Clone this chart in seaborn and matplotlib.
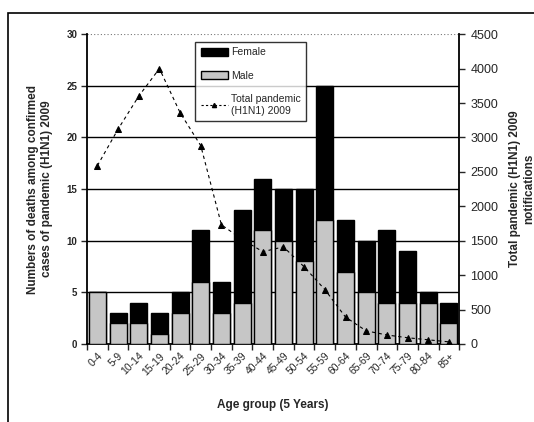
import matplotlib
matplotlib.use("Agg")
import matplotlib.pyplot as plt
import matplotlib.transforms as mtransforms
import seaborn as sns
import pandas as pd
import numpy as np
from matplotlib.patches import Patch, Rectangle
from matplotlib.lines import Line2D

age_groups = ["0-4", "5-9", "10-14", "15-19", "20-24", "25-29", "30-34", "35-39",
              "40-44", "45-49", "50-54", "55-59", "60-64", "65-69", "70-74",
              "75-79", "80-84", "85+"]
deaths_total = [5, 3, 4, 3, 5, 11, 6, 13, 16, 15, 15, 25, 12, 10, 11, 9, 5, 4]
deaths_male = [5, 2, 2, 1, 3, 6, 3, 4, 11, 10, 8, 12, 7, 5, 4, 4, 4, 2]
notifications = [2590, 3120, 3600, 4000, 3360, 2880, 1730, 1520, 1340, 1410,
                 1120, 790, 390, 190, 130, 90, 60, 30]

df = pd.DataFrame({"age": age_groups, "total": deaths_total,
                   "male": deaths_male, "notif": notifications})

sns.set_style("white")
plt.rcParams["font.family"] = ["Liberation Sans", "DejaVu Sans"]

fig = plt.figure(figsize=(5.34, 4.22), dpi=100)
ax = fig.add_axes([0.163, 0.185, 0.697, 0.734])

# horizontal grid lines behind the bars
for v in [5, 10, 15, 20, 25]:
    ax.axhline(v, color="black", lw=1.0, zorder=0)
ax.axhline(30, color="#777777", lw=0.8, ls=(0, (1, 2)), zorder=0)

sns.barplot(data=df, x="age", y="total", color="black", edgecolor="black",
            linewidth=1.0, width=0.82, saturation=1, ax=ax, zorder=2)
sns.barplot(data=df, x="age", y="male", color="#c6c6c6", edgecolor="black",
            linewidth=1.0, width=0.82, saturation=1, ax=ax, zorder=3)

ax.set_ylim(0, 30)
ax.set_xlim(-0.5, len(age_groups) - 0.5)
ax.set_yticks(range(0, 31, 5))
ax.tick_params(axis="y", labelsize=7, length=4, width=1, direction="out",
               left=True, pad=3)
for lab in ax.get_yticklabels():
    lab.set_fontweight("bold")

# x ticks at category boundaries, labels at category centres
ax.set_xticks(np.arange(-0.5, len(age_groups)), minor=False)
ax.set_xticklabels([])
ax.set_xticks(np.arange(len(age_groups)), minor=True)
ax.set_xticklabels(age_groups, minor=True, rotation=45, ha="right",
                   rotation_mode="anchor", fontsize=7.5)
shift = mtransforms.ScaledTranslation(-5 / 100, 0, fig.dpi_scale_trans)
for lab in ax.get_xticklabels(minor=True):
    lab.set_transform(lab.get_transform() + shift)
ax.tick_params(axis="x", which="major", length=4, width=1, direction="out",
               bottom=True)
ax.tick_params(axis="x", which="minor", length=0, pad=5)

for s in ["left", "bottom"]:
    ax.spines[s].set_linewidth(1.3)
    ax.spines[s].set_color("black")
ax.spines["top"].set_visible(False)
ax.spines["right"].set_visible(False)

ax.set_xlabel("Age group (5 Years)", fontsize=8.5, fontweight="bold", labelpad=16)
ax.set_ylabel("Numbers of deaths among confirmed\ncases of pandemic (H1N1) 2009",
              fontsize=8.5, fontweight="bold", labelpad=10)

ax2 = ax.twinx()
sns.lineplot(data=df, x="age", y="notif", ax=ax2, color="black", lw=0.8,
             linestyle=(0, (3, 3)), marker="^", markersize=4,
             markeredgecolor="black", sort=False, zorder=4)
ax2.set_ylim(0, 4500)
ax2.set_yticks(range(0, 4501, 500))
ax2.tick_params(axis="y", labelsize=9, length=4, width=1, direction="out",
                right=True, pad=4)
ax2.spines["right"].set_linewidth(1.3)
ax2.spines["right"].set_color("black")
for s in ["left", "top", "bottom"]:
    ax2.spines[s].set_visible(False)
ax2.set_xlabel("")
ax2.set_ylabel("Total pandemic (H1N1) 2009\nnotifications", fontsize=8.5,
               fontweight="bold", labelpad=8)

handles = [Patch(facecolor="black", edgecolor="black"),
           Patch(facecolor="#c6c6c6", edgecolor="black"),
           Line2D([], [], color="black", lw=0.8, ls=(0, (2, 2)), marker="^",
                  markersize=3)]
leg = ax2.legend(handles, ["Female", "Male", "Total pandemic\n(H1N1) 2009"],
                 loc="upper left", bbox_to_anchor=(0.277, 0.991), fontsize=7.5,
                 frameon=True, fancybox=False, edgecolor="black",
                 handlelength=2.6, handleheight=0.8, labelspacing=1.3,
                 borderpad=0.5, handletextpad=0.3)
leg.get_frame().set_linewidth(1.0)
leg.set_zorder(10)

# outer frame
fig.patches.append(Rectangle((8 / 534, -0.1), 1.2, (422 - 13) / 422 + 0.1,
                             transform=fig.transFigure, fill=False,
                             edgecolor="black", lw=1.2))

fig.savefig("out.png", dpi=100)
